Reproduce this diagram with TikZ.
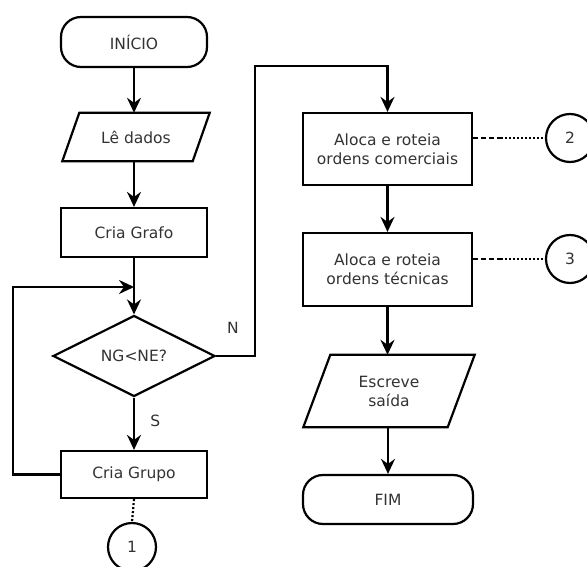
\documentclass[tikz,border=0pt]{standalone}
\usepackage{fontspec}
\setmainfont{DejaVu Sans}
\usetikzlibrary{shapes.geometric,shapes.misc,arrows.meta,calc}
\begin{document}
\begin{tikzpicture}[x=1pt,y=-1pt,
  every node/.style={font=\fontsize{15.5}{19}\selectfont, text=black!80, align=center},
  ln/.style={line width=2.2pt},
  arr/.style={ln,-{Stealth[length=15pt,width=14pt,inset=5pt]}},
  boxr/.style={draw,ln,rectangle,inner sep=0pt},
  term/.style={draw,ln,rectangle,rounded corners=20pt,inner sep=0pt},
  txt/.style={inner sep=0pt},
  dia/.style={draw,ln,diamond,inner sep=0pt},
  conn/.style={draw,ln,circle,inner sep=0pt,minimum size=48pt},
  dsh/.style={ln,dash pattern=on 5pt off 3pt},
  dot/.style={ln,dash pattern=on 2pt off 2pt}]
\useasboundingbox[fill=white] (0,0) rectangle (587,567);

% left column
\node[term,minimum width=146pt,minimum height=50pt] (inicio) at (134,42) {INÍCIO};
\node[txt,minimum width=130pt,minimum height=48pt] (le) at (136,137) {Lê dados};
\draw[ln] ($(le.north west)+(8.5,0)$) -- ($(le.north east)+(8.5,0)$)
  -- ($(le.south east)+(-8.5,0)$) -- ($(le.south west)+(-8.5,0)$) -- cycle;
\node[boxr,minimum width=146pt,minimum height=49pt] (grafo) at (134,232.5) {Cria Grafo};
\node[dia,minimum width=162pt,minimum height=81pt] (dec) at (134,356) {NG<NE?};
\node[boxr,minimum width=146pt,minimum height=47pt] (grupo) at (134,474.5) {Cria Grupo};
\node[conn] (c1) at (132,547) {1};
\coordinate (m) at (134,287);
\coordinate (nr) at (255,66);

% right column
\node[boxr,minimum width=169pt,minimum height=72pt] (com) at (387.5,149) {Aloca e roteia\\ordens comerciais};
\node[boxr,minimum width=169pt,minimum height=73pt] (tec) at (387.5,269.5) {Aloca e roteia\\ordens técnicas};
\node[txt,minimum width=144pt,minimum height=72pt] (saida) at (389,391) {Escreve\\saída};
\draw[ln] ($(saida.north west)+(13.5,0)$) -- ($(saida.north east)+(13.5,0)$)
  -- ($(saida.south east)+(-13.5,0)$) -- ($(saida.south west)+(-13.5,0)$) -- cycle;
\node[term,minimum width=170pt,minimum height=49pt] (fim) at (388,499.5) {FIM};
\node[conn] (c2) at (570,138) {2};
\node[conn] (c3) at (570,259) {3};

% connectors
\draw[arr] (inicio.south) -- (inicio.south |- le.north);
\draw[arr] (le.south -| grafo.south) -- (grafo.north);
\draw[arr] (grafo.south) -- (dec.north);
\draw[arr] (grupo.west) -- ++(-47,0) |- (m);
\draw[arr] (dec.south) -- node[right=12pt,pos=0.45] {S} (grupo.north);
\draw[arr] (dec.east) -| (nr) -| (com.north);
\node at (233,328) {N};
\draw[arr] (com.south) -- (tec.north);
\draw[arr] (tec.south) -- (tec.south |- saida.north);
\draw[arr] (saida.south -| fim.north) -- (fim.north);
\draw[dot] (grupo.south) -- (c1.north);
\draw[dsh] (c2.west -| com.east) -- ++(28,0) coordinate (d2);
\draw[dot] (d2) -- (c2.west);
\draw[dsh] (c3.west -| tec.east) -- ++(28,0) coordinate (d3);
\draw[dot] (d3) -- (c3.west);
\end{tikzpicture}
\end{document}
